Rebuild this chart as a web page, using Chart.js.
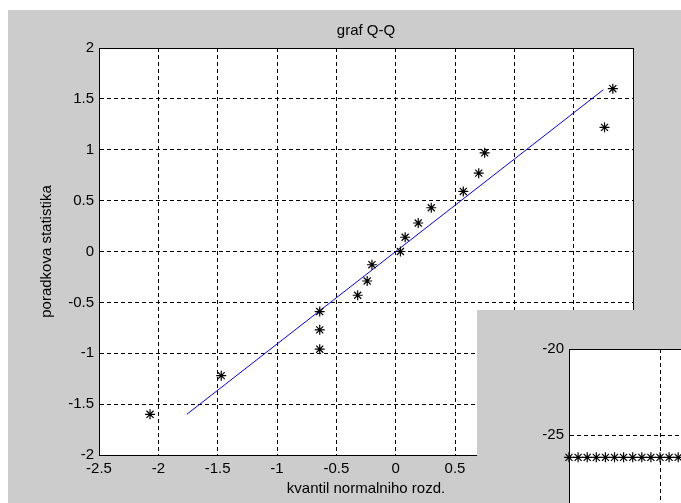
<!DOCTYPE html>
<html>
<head>
<meta charset="utf-8">
<title>graf Q-Q</title>
<script src="https://cdn.jsdelivr.net/npm/chart.js@4/dist/chart.umd.min.js"></script>
<style>
  html, body { margin: 0; padding: 0; background: #fff; overflow: hidden; }
  body { width: 681px; height: 503px; position: relative; }
  #fig { position: absolute; left: 8px; top: 10px; width: 673px; height: 493px; background: #cccccc; }
  #fig2 { position: absolute; left: 477px; top: 310px; width: 204px; height: 193px; background: #cccccc; overflow: hidden; }
  canvas { display: block; }
</style>
</head>
<body>
<div id="fig"><canvas id="qq" width="673" height="493"></canvas></div>
<div id="fig2"><canvas id="second" width="300" height="337"></canvas></div>
<script>
// kvantily normalniho rozdeleni vs. poradkova statistika
const quantX = [-2.07, -1.47, -0.64, -0.64, -0.64, -0.32, -0.24, -0.20, 0.04, 0.08, 0.19, 0.30, 0.57, 0.70, 0.75, 1.76, 1.83];
const orderY = [-1.60, -1.22, -0.96, -0.77, -0.59, -0.43, -0.29, -0.13, 0.00, 0.14, 0.28, 0.43, 0.59, 0.77, 0.97, 1.22, 1.60];

// prolozena primka
const fitX = [-1.76, 1.75];
const fitY = [-1.60, 1.59];

const xTicks = [-2.5, -2, -1.5, -1, -0.5, 0, 0.5, 1, 1.5, 2];
const yTicks = [-2, -1.5, -1, -0.5, 0, 0.5, 1, 1.5, 2];

// druhe okno (vykouknuty roh)
const secX = [0, 1, 2, 3, 4, 5, 6, 7, 8, 9, 10, 11, 12];
const secY = [-26.3, -26.3, -26.3, -26.3, -26.3, -26.3, -26.3, -26.3, -26.3, -26.3, -26.3, -26.3, -26.3];
const secYTicks = [-35, -30, -25, -20];
const secXTicks = [0, 10, 20];

const FONT = { family: "'Liberation Sans', Arial, Helvetica, sans-serif", size: 15 };
Chart.defaults.font = FONT;
Chart.defaults.color = '#000';

const whiteAxes = {
    id: 'whiteAxes',
    beforeDraw(chart) {
        const { ctx, chartArea: a } = chart;
        ctx.save();
        ctx.fillStyle = '#fff';
        ctx.fillRect(a.left, a.top, a.right - a.left, a.bottom - a.top);
        ctx.restore();
    }
};

// v4: border.dash plati pro mrizku, samotna osa zustava plna
const grid = { color: '#000', lineWidth: 1, drawTicks: false };
const border = { display: true, color: '#000', width: 1, dash: [4, 3] };

function fixTicks(list) {
    return scale => { scale.ticks = list.map(v => ({ value: v })); };
}
function boxSize(w, h) {
    return scale => {
        if (w !== null) scale.width = w;
        if (h !== null) scale.height = h;
    };
}
function toXY(xs, ys) {
    return xs.map((x, i) => ({ x: x, y: ys[i] }));
}

const star = {
    pointStyle: 'star',
    pointRadius: 5,
    pointBorderWidth: 1.2,
    borderColor: '#000',
    backgroundColor: '#000',
    clip: false
};

new Chart(document.getElementById('qq'), {
    type: 'scatter',
    data: {
        datasets: [
            { data: toXY(quantX, orderY), ...star },
            {
                data: toXY(fitX, fitY),
                showLine: true,
                pointRadius: 0,
                borderColor: '#0000ff',
                borderWidth: 1
            }
        ]
    },
    options: {
        responsive: false,
        animation: false,
        layout: { padding: 0 },
        plugins: { legend: { display: false }, tooltip: { enabled: false } },
        scales: {
            x: {
                type: 'linear', position: 'bottom', min: -2.5, max: 2,
                afterBuildTicks: fixTicks(xTicks),
                afterFit: boxSize(null, 48),
                grid: grid,
                border: border,
                ticks: { padding: 5, maxRotation: 0, autoSkip: false, callback: v => String(v) },
                title: { display: true, text: 'kvantil normalniho rozd.', padding: { top: 0, bottom: 5 } }
            },
            y: {
                type: 'linear', position: 'left', min: -2, max: 2,
                afterBuildTicks: fixTicks(yTicks),
                afterFit: boxSize(91, null),
                grid: grid,
                border: border,
                ticks: { padding: 5, autoSkip: false, callback: v => String(v) },
                title: { display: true, text: 'poradkova statistika', padding: { top: 30, bottom: 0 } }
            },
            x2: {
                type: 'linear', axis: 'x', position: 'top', min: -2.5, max: 2,
                afterFit: boxSize(null, 38),
                grid: { display: false },
                border: border,
                ticks: { display: false },
                title: { display: true, text: 'graf Q-Q', padding: { top: 12, bottom: 0 } }
            },
            y2: {
                type: 'linear', axis: 'y', position: 'right', min: -2, max: 2,
                afterFit: boxSize(48, null),
                grid: { display: false },
                border: border,
                ticks: { display: false }
            }
        }
    },
    plugins: [whiteAxes]
});

new Chart(document.getElementById('second'), {
    type: 'scatter',
    data: {
        datasets: [{ data: toXY(secX, secY), ...star }]
    },
    options: {
        responsive: false,
        animation: false,
        layout: { padding: { top: 0, right: 26, bottom: 0, left: 0 } },
        plugins: { legend: { display: false }, tooltip: { enabled: false } },
        scales: {
            x: {
                type: 'linear', position: 'bottom', min: 0, max: 20,
                afterBuildTicks: fixTicks(secXTicks),
                afterFit: boxSize(null, 40),
                grid: grid,
                border: border,
                ticks: { display: false }
            },
            y: {
                type: 'linear', position: 'left', min: -35, max: -20,
                afterBuildTicks: fixTicks(secYTicks),
                afterFit: boxSize(92, null),
                grid: grid,
                border: border,
                ticks: { padding: 5, autoSkip: false, callback: v => String(v) }
            },
            x2: {
                type: 'linear', axis: 'x', position: 'top', min: 0, max: 20,
                afterFit: boxSize(null, 39),
                grid: { display: false },
                border: border,
                ticks: { display: false }
            }
        }
    },
    plugins: [whiteAxes]
});
</script>
</body>
</html>
